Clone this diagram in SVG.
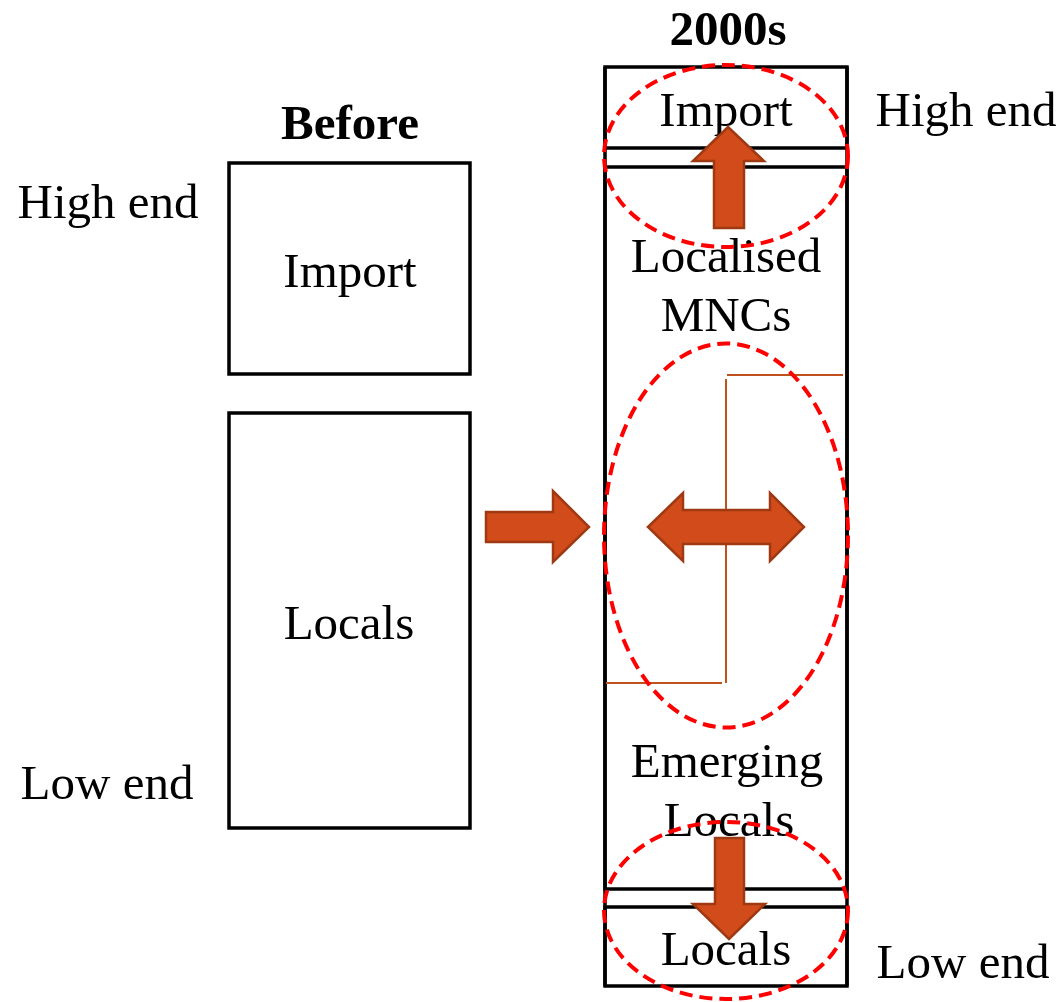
<svg xmlns="http://www.w3.org/2000/svg" width="1063" height="1002" viewBox="0 0 1063 1002">
  <style>
    text { font-family: "Liberation Serif", "Times New Roman", serif; font-size: 49px; fill: #000; text-anchor: middle; }
    .title { font-weight: bold; }
    .box { fill: none; stroke: #000; stroke-width: 3.5; }
    .sep { stroke: #000; stroke-width: 3.5; }
    .guide { fill: none; stroke: #c0501c; stroke-width: 2; }
    .arrow { fill: #d24b1a; stroke: #9e3912; stroke-width: 2.5; stroke-linejoin: miter; }
    .ring { fill: none; stroke: #ff0000; stroke-width: 4; stroke-dasharray: 13 7; }
  </style>

  <rect width="1063" height="1002" fill="#fff"/>

  <!-- column headings and scale labels -->
  <text class="title" x="350" y="139">Before</text>
  <text class="title" x="728" y="45">2000s</text>
  <text x="108" y="218">High end</text>
  <text x="107" y="799">Low end</text>
  <text x="966" y="126">High end</text>
  <text x="963" y="978">Low end</text>

  <!-- left column: before -->
  <g id="before-import">
    <rect class="box" x="229" y="163" width="241" height="211"/>
    <text x="350" y="287">Import</text>
  </g>
  <g id="before-locals">
    <rect class="box" x="229" y="413" width="241" height="415"/>
    <text x="349" y="639">Locals</text>
  </g>

  <!-- right column: 2000s -->
  <g id="column-frame">
    <line class="sep" x1="605" y1="67" x2="605" y2="986"/>
    <line class="sep" x1="847" y1="67" x2="847" y2="986"/>
  </g>
  <g id="after-import">
    <rect class="box" x="605" y="67" width="242" height="81"/>
    <text x="726" y="126">Import</text>
  </g>
  <g id="after-mncs">
    <rect class="box" x="605" y="167" width="242" height="722"/>
    <text x="726" y="272">Localised</text>
    <text x="726" y="331">MNCs</text>
  </g>
  <g id="after-emerging">
    <text x="727" y="777">Emerging</text>
    <text x="729" y="836">Locals</text>
  </g>
  <g id="after-locals">
    <rect class="box" x="605" y="907" width="242" height="79"/>
    <text x="726" y="965">Locals</text>
  </g>

  <!-- connectors -->
  <g id="connectors">
    <!-- boundary step between MNCs and emerging locals -->
    <polyline class="guide" points="843,375 727,375"/>
    <polyline class="guide" points="726,379 726,683"/>
    <polyline class="guide" points="606,683 722,683"/>

    <!-- before to 2000s -->
    <polygon class="arrow" points="486,512 553,512 553,491 589,527 553,562 553,542 486,542"/>
    <!-- upgrade into import -->
    <polygon class="arrow" points="714,228 714,161 693,161 728,127 764,161 744,161 744,228"/>
    <!-- competition between MNCs and emerging locals -->
    <polygon class="arrow" points="648,527 683,493 683,510 770,510 770,493 804,527 770,561 770,544 683,544 683,561"/>
    <!-- downgrade into locals -->
    <polygon class="arrow" points="715,838 744,838 744,904 765,904 729,939 693,904 715,904"/>
  </g>

  <!-- highlighted zones -->
  <g id="zones">
    <ellipse class="ring" cx="726" cy="156" rx="122" ry="91"/>
    <ellipse class="ring" cx="726" cy="535.5" rx="122" ry="192"/>
    <ellipse class="ring" cx="726" cy="910.5" rx="122" ry="88.5"/>
  </g>
</svg>
